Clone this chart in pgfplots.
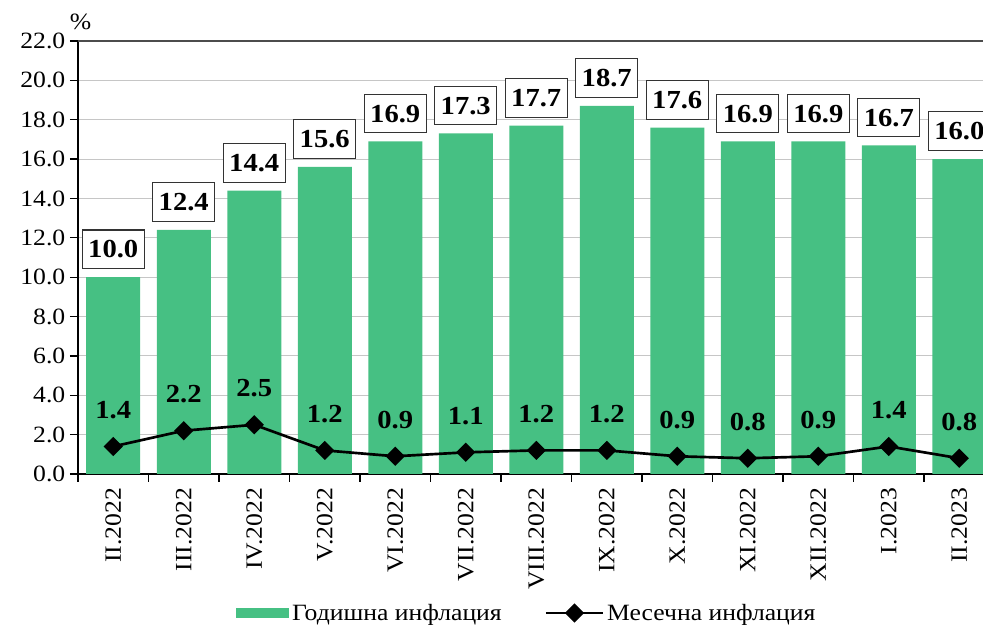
\documentclass[border=0pt]{standalone}
\usepackage{pgfplots}
\pgfplotsset{compat=1.18}
\usepackage{fontspec}
\setmainfont{Liberation Serif}[FakeStretch=1.1]
\definecolor{bargreen}{RGB}{70,192,131}
\begin{document}
\begin{tikzpicture}
\useasboundingbox (-58.5pt,-114.75pt) rectangle (678.75pt,355.5pt);
\clip (-58.5pt,-114.75pt) rectangle (678.75pt,355.5pt);
\begin{axis}[
  at={(0pt,0pt)}, anchor=south west,
  width=687.4pt, height=324.75pt, scale only axis,
  clip=false,
  xmin=-0.5, xmax=12.5, ymin=0, ymax=22,
  axis x line*=bottom, axis y line*=left,
  axis line style={black, line width=1.1pt},
  tick align=outside, major tick length=6pt,
  tick style={black, line width=0.9pt},
  /pgf/number format/assume math mode=true,
  ytick={0,2,...,22},
  yticklabel style={/pgf/number format/fixed,/pgf/number format/fixed zerofill,/pgf/number format/precision=1, font=\fontsize{17.5}{20}\selectfont},
  ymajorgrids, grid style={gray!45, line width=0.7pt},
  xtick={-0.5,0.5,...,12.5}, xticklabels={},
  extra x ticks={0,1,...,12},
  extra x tick labels={II.2022,III.2022,IV.2022,V.2022,VI.2022,VII.2022,VIII.2022,IX.2022,X.2022,XI.2022,XII.2022,I.2023,II.2023},
  extra x tick style={major tick length=0pt, grid=none},
  xticklabel style={rotate=90, anchor=east, font=\fontsize{17.5}{20}\selectfont},
  xticklabel shift=7pt,
  legend columns=2,
  legend style={draw=none, at={(0.49,-0.321)}, anchor=center, font=\fontsize{17.5}{20}\selectfont,
    /tikz/every even column/.append style={column sep=30pt}},
]
\addplot[ybar, bar width=40.5pt, fill=bargreen, draw=none,
  legend image code/.code={\fill[bargreen] (0pt,-3.4pt) rectangle (40pt,3.4pt);},
  nodes near coords={\pgfmathprintnumber[fixed,fixed zerofill,precision=1]{\pgfplotspointmeta}},
  every node near coord/.append style={draw=black!80, fill=white, line width=0.8pt, inner xsep=4.5pt, inner ysep=8pt, text height=13pt, text depth=0pt, anchor=south, yshift=6pt, font=\bfseries\fontsize{19.5}{22}\selectfont, text=black}]
coordinates {(0,10.0) (1,12.4) (2,14.4) (3,15.6) (4,16.9) (5,17.3) (6,17.7) (7,18.7) (8,17.6) (9,16.9) (10,16.9) (11,16.7) (12,16.0)};
\addlegendentry{Годишна инфлация}
\addplot[black, line width=2pt, mark=square*, mark size=4.6pt, mark options={solid, fill=black, line width=1pt, rotate=45},
  legend image code/.code={\draw[black, line width=2pt, mark=square*, mark size=4.6pt, mark options={solid, fill=black, line width=1pt, rotate=45}, mark repeat=2, mark phase=2] plot coordinates {(0pt,0pt) (21.5pt,0pt) (43pt,0pt)};},
  nodes near coords={\pgfmathprintnumber[fixed,fixed zerofill,precision=1]{\pgfplotspointmeta}},
  every node near coord/.append style={anchor=base, yshift=21pt, font=\bfseries\fontsize{19.5}{22}\selectfont, text=black}]
coordinates {(0,1.4) (1,2.2) (2,2.5) (3,1.2) (4,0.9) (5,1.1) (6,1.2) (7,1.2) (8,0.9) (9,0.8) (10,0.9) (11,1.4) (12,0.8)};
\addlegendentry{Месечна инфлация}
\draw[black!70, line width=1pt] (rel axis cs:0,1) -- (rel axis cs:1,1);
\node[font=\fontsize{17.5}{20}\selectfont, yshift=14pt, xshift=2pt] at (rel axis cs:0,1) {\%};
\end{axis}
\end{tikzpicture}
\end{document}
